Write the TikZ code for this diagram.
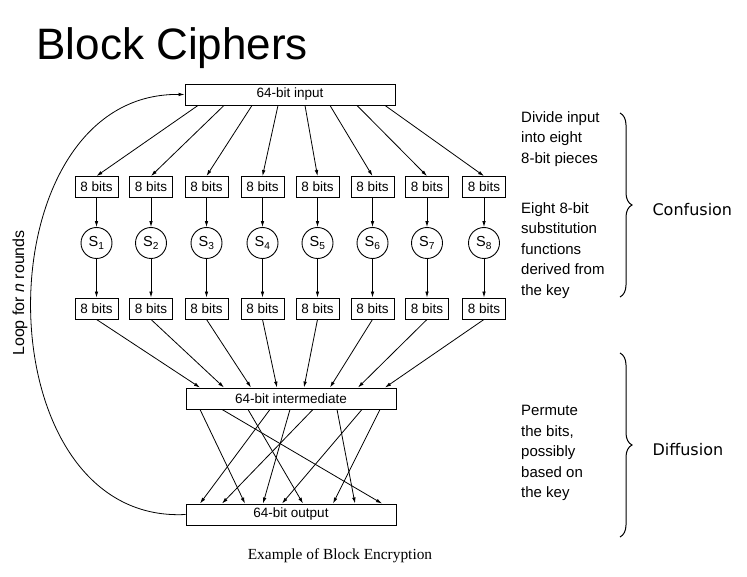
\documentclass[tikz,border=0pt]{standalone}
\usepackage{fontspec}
\setmainfont{Liberation Sans}
\newfontfamily\capfont{Liberation Serif}
\newfontfamily\sidefont{DejaVu Sans}
\usetikzlibrary{arrows.meta,decorations.pathreplacing}
\begin{document}
\begin{tikzpicture}[x=1pt,y=-1pt,>={Latex[length=6pt,width=3.6pt]}]
	\tikzstyle{block}=[draw=black,line width=0.9pt,minimum width=210pt,minimum height=21pt,inner sep=0pt,font=\fontsize{13.5}{16}\selectfont]
	\tikzstyle{bits}=[draw=black,line width=0.9pt,minimum width=43pt,minimum height=21pt,inner sep=0pt,font=\fontsize{13.5}{16}\selectfont]
	\tikzstyle{sbox}=[circle,draw=black,line width=0.9pt,minimum size=31pt,inner sep=0pt,font=\fontsize{14.5}{16}\selectfont]
	\tikzstyle{edge}=[draw,line width=0.8pt,->]
	\tikzstyle{note}=[anchor=north west,align=left,inner sep=0pt,font=\fontsize{15}{20.5}\selectfont]
	\tikzstyle{brace}=[decorate,decoration={brace,amplitude=12pt},line width=1pt]
	\useasboundingbox (0,0) rectangle (747,577);
	\node [anchor=base west,font=\fontsize{44}{50}\selectfont] (title) at (33,60) {Block Ciphers};
	% input and output words
	\node [block] (in) at (290,94.5) {64-bit input};
	\node [block] (mid) at (291,398.5) {64-bit intermediate};
	\node [block] (out) at (291,514.5) {64-bit output};
	% eight pieces
	\node [bits] (t1) at (96.5,187) {8 bits};
	\node [bits] (t2) at (151,187) {8 bits};
	\node [bits] (t3) at (206.5,187) {8 bits};
	\node [bits] (t4) at (262.5,187) {8 bits};
	\node [bits] (t5) at (317.5,187) {8 bits};
	\node [bits] (t6) at (372.5,187) {8 bits};
	\node [bits] (t7) at (427,187) {8 bits};
	\node [bits] (t8) at (484,187) {8 bits};
	\node [sbox] (s1) at (96.5,243) {S\textsubscript{1}};
	\node [sbox] (s2) at (151,243) {S\textsubscript{2}};
	\node [sbox] (s3) at (206.5,243) {S\textsubscript{3}};
	\node [sbox] (s4) at (262.5,243) {S\textsubscript{4}};
	\node [sbox] (s5) at (317.5,243) {S\textsubscript{5}};
	\node [sbox] (s6) at (372.5,243) {S\textsubscript{6}};
	\node [sbox] (s7) at (427,243) {S\textsubscript{7}};
	\node [sbox] (s8) at (484,243) {S\textsubscript{8}};
	\node [bits] (b1) at (96.5,308.5) {8 bits};
	\node [bits] (b2) at (151,308.5) {8 bits};
	\node [bits] (b3) at (206.5,308.5) {8 bits};
	\node [bits] (b4) at (262.5,308.5) {8 bits};
	\node [bits] (b5) at (317.5,308.5) {8 bits};
	\node [bits] (b6) at (372.5,308.5) {8 bits};
	\node [bits] (b7) at (427,308.5) {8 bits};
	\node [bits] (b8) at (484,308.5) {8 bits};
	% split
	\draw[edge] ([xshift=-92pt]in.south) -- (t1.north);
	\draw[edge] ([xshift=-66pt]in.south) -- (t2.north);
	\draw[edge] ([xshift=-38pt]in.south) -- (t3.north);
	\draw[edge] ([xshift=-12pt]in.south) -- (t4.north);
	\draw[edge] ([xshift=15pt]in.south) -- (t5.north);
	\draw[edge] ([xshift=40pt]in.south) -- (t6.north);
	\draw[edge] ([xshift=67pt]in.south) -- (t7.north);
	\draw[edge] ([xshift=95pt]in.south) -- (t8.north);
	% substitution
	\draw[edge] (t1) -- (s1);
	\draw[edge] (t2) -- (s2);
	\draw[edge] (t3) -- (s3);
	\draw[edge] (t4) -- (s4);
	\draw[edge] (t5) -- (s5);
	\draw[edge] (t6) -- (s6);
	\draw[edge] (t7) -- (s7);
	\draw[edge] (t8) -- (s8);
	\draw[edge] (s1) -- (b1);
	\draw[edge] (s2) -- (b2);
	\draw[edge] (s3) -- (b3);
	\draw[edge] (s4) -- (b4);
	\draw[edge] (s5) -- (b5);
	\draw[edge] (s6) -- (b6);
	\draw[edge] (s7) -- (b7);
	\draw[edge] (s8) -- (b8);
	% join
	\draw[edge] (b1.south) -- ([xshift=-91pt]mid.north);
	\draw[edge] (b2.south) -- ([xshift=-67pt]mid.north);
	\draw[edge] (b3.south) -- ([xshift=-40pt]mid.north);
	\draw[edge] (b4.south) -- ([xshift=-14pt]mid.north);
	\draw[edge] (b5.south) -- ([xshift=13pt]mid.north);
	\draw[edge] (b6.south) -- ([xshift=39pt]mid.north);
	\draw[edge] (b7.south) -- ([xshift=67pt]mid.north);
	\draw[edge] (b8.south) -- ([xshift=94pt]mid.north);
	% permutation
	\draw[edge] ([xshift=-91pt]mid.south) -- ([xshift=-46pt]out.north);
	\draw[edge] ([xshift=-69pt]mid.south) -- ([xshift=91pt]out.north);
	\draw[edge] ([xshift=-43pt]mid.south) -- ([xshift=12pt]out.north);
	\draw[edge] ([xshift=-21pt]mid.south) -- ([xshift=-91pt]out.north);
	\draw[edge] ([xshift=-1pt]mid.south) -- ([xshift=-28pt]out.north);
	\draw[edge] ([xshift=22pt]mid.south) -- ([xshift=-69pt]out.north);
	\draw[edge] ([xshift=46pt]mid.south) -- ([xshift=64pt]out.north);
	\draw[edge] ([xshift=71pt]mid.south) -- ([xshift=-9pt]out.north);
	\draw[edge] ([xshift=89pt]mid.south) -- ([xshift=42pt]out.north);
	% rounds
	\draw[edge] (out.west) .. controls (-20,525) and (-20,92) .. (in.west);
	\node [rotate=90,font=\fontsize{16}{19}\selectfont] (loop) at (20,293) {Loop for \textit{n} rounds};
	% notes
	\node [note] (n1) at (521,111) {Divide input\\into eight\\8-bit pieces};
	\node [note] (n2) at (521,202) {Eight 8-bit\\substitution\\functions\\derived from\\the key};
	\node [note] (n3) at (521,405) {Permute\\the bits,\\possibly\\based on\\the key};
	\draw[brace] (620,113) -- (620,297);
	\draw[brace] (620,353) -- (620,537);
	\node [anchor=west,font=\sidefont\fontsize{16}{20}\selectfont] (conf) at (649,210) {Confusion};
	\node [anchor=west,font=\sidefont\fontsize{16}{20}\selectfont] (diff) at (649,450) {Diffusion};
	\node [font=\capfont\fontsize{15.4}{18}\selectfont] (cap) at (340,556) {Example of Block Encryption};
\end{tikzpicture}
\end{document}
